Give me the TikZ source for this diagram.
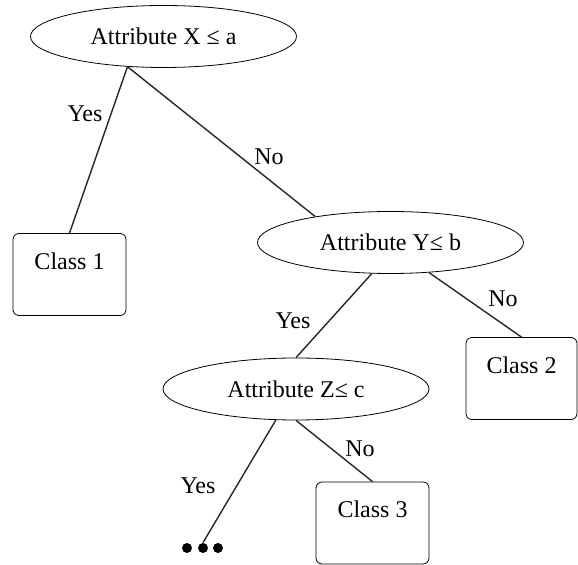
\documentclass[tikz,border=0pt]{standalone}
\usepackage{fontspec}
\setmainfont{Liberation Serif}
\usetikzlibrary{shapes.geometric}

\begin{document}
\begin{tikzpicture}[x=0.5pt,y=-0.5pt] % one unit is one pixel of the sketch
		\tikzset{every node/.style={font=\fontsize{12}{14}\selectfont},
			test/.style={draw,ellipse,minimum width=133pt,minimum height=31pt,inner sep=0pt},
			leaf/.style={draw,rounded corners=3pt,minimum width=56.5pt,inner sep=0pt,text height=18pt,text depth=23pt},
			dot/.style={fill=black,circle,inner sep=0pt,minimum size=5pt},
			branch/.style={line width=0.7pt,black!85}}
		
		\useasboundingbox (0,0) rectangle (578,565);
		
		% Tests
		\node[test] (X) at (163.5,36.5) {Attribute X ≤ a};
		\node[test] (Y) at (390.5,242.5) {Attribute Y≤ b};
		\node[test] (Z) at (296,389) {Attribute Z≤ c};
		
		% Leaves
		\node[leaf] (C1) at (69.5,274.5) {Class 1};
		\node[leaf,minimum width=55.5pt] (C2) at (521.5,378.5) {Class 2};
		\node[leaf] (C3) at (372.5,523) {Class 3};
		
		% Subtree left out
		\node[dot] (d1) at (187,548) {};
		\node[dot] (d2) at (203,548) {};
		\node[dot] (d3) at (218,548) {};
		
		% Branches
		\draw[branch] (X.220) -- (C1.north);
		\draw[branch] (X.220) -- (Y.161);
		\draw[branch] (Y.-121) -- (Z.north);
		\draw[branch] (Y.-38) -- (C2.north);
		\draw[branch] (Z.-123) -- (d2.north);
		\draw[branch] (Z.south) -- (C3.north);
		
		% Branch labels
		\node (yesX) at (85,114) {Yes};
		\node (noX) at (269,157) {No};
		\node (yesY) at (293,321) {Yes};
		\node (noY) at (503,299) {No};
		\node (yesZ) at (198,486) {Yes};
		\node (noZ) at (360,449) {No};
		
\end{tikzpicture}
\end{document}
